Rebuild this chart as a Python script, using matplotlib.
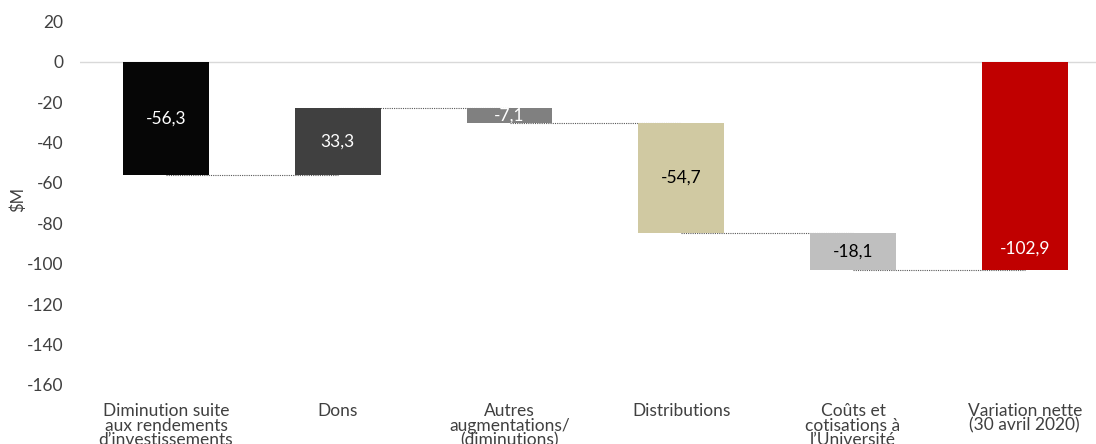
import matplotlib
matplotlib.use("Agg")
import matplotlib.pyplot as plt
import numpy as np

plt.rcParams['font.family'] = ['Lato', 'DejaVu Sans']
plt.rcParams['axes.unicode_minus'] = False

# categories and step values (in $M)
categories = [
    "Diminution suite\naux rendements\nd\u2019investissements",
    "Dons",
    "Autres\naugmentations/\n(diminutions)",
    "Distributions",
    "Co\u00fbts et\ncotisations \u00e0\nl\u2019Universit\u00e9",
    "Variation nette\n(30 avril 2020)",
]
steps = [-56.3, 33.3, -7.1, -54.7, -18.1]
net_total = -102.9
labels = ["-56,3", "33,3", "-7,1", "-54,7", "-18,1", "-102,9"]

bar_colors = ["#060606", "#404040", "#808080", "#d0c9a2", "#bfbfbf", "#c00000"]
text_colors = ["white", "white", "white", "black", "black", "white"]

# running totals for the waterfall
ends = np.cumsum(steps)
starts = np.concatenate([[0], ends[:-1]])
bottoms = list(np.minimum(starts, ends)) + [min(0, net_total)]
heights = list(np.abs(steps)) + [abs(net_total)]
levels = list(ends)  # connector levels between bars

fig = plt.figure(figsize=(10.96, 4.44), dpi=100)
ax = fig.add_axes([0.0731, 0.1329, 0.9403, 0.819])

x = np.arange(len(categories))

# dotted connectors from the middle of one bar to the middle of the next
for i, lvl in enumerate(levels):
    ax.plot([x[i], x[i + 1]], [lvl, lvl], linestyle=(0, (1, 1)), color="#595959",
            linewidth=0.8, zorder=1)

ax.bar(x, heights, bottom=bottoms, width=0.5, color=bar_colors, zorder=2)

# labels centred in the step bars, the total's label sits at the inside end
label_y = [b + h / 2 for b, h in zip(bottoms[:-1], heights[:-1])] + [net_total + 10.5]
for xi, ly, lab, tc in zip(x, label_y, labels, text_colors):
    ax.text(xi, ly, lab, ha="center", va="center", color=tc,
            fontsize=12.5, zorder=3)

ax.axhline(0, color="#d9d9d9", linewidth=1, zorder=0)

ax.set_xlim(-0.5, len(categories) - 0.5)
ax.set_ylim(-160, 20)
ax.set_yticks(np.arange(-160, 21, 20))
ax.set_xticks(x)
ax.set_xticklabels(categories, linespacing=0.9)
ax.tick_params(axis="both", length=0, labelsize=12.5, colors="#404040")
ax.tick_params(axis="x", pad=13)
ax.tick_params(axis="y", pad=12)
for s in ax.spines.values():
    s.set_visible(False)
ax.set_ylabel("$M", fontsize=12, color="#404040", va="center")
ax.yaxis.set_label_coords(-0.06, 0.51)

fig.savefig("out.png", dpi=100)
